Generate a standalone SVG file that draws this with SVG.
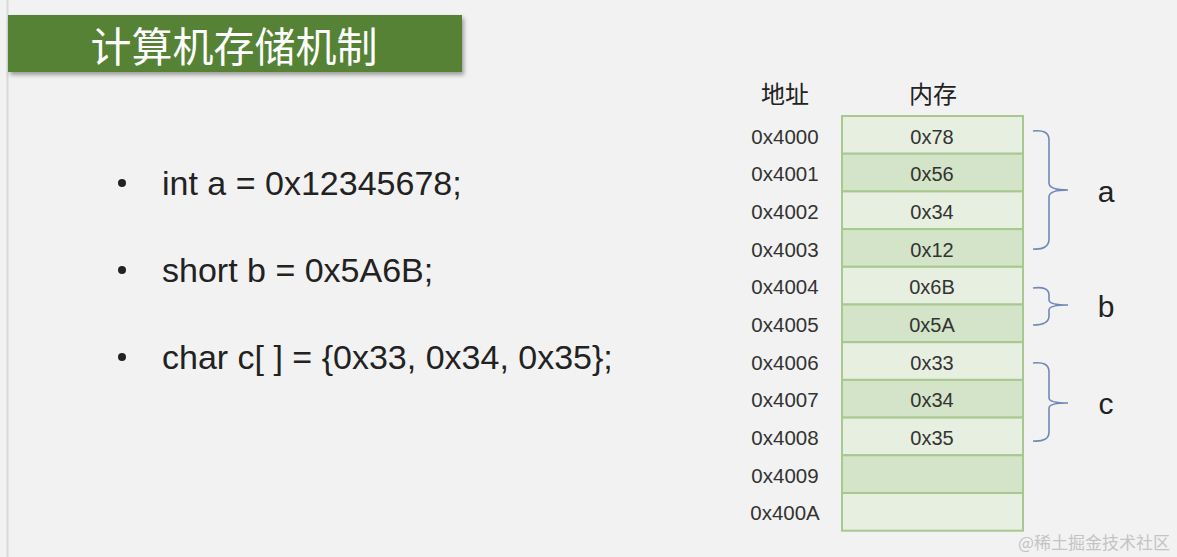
<svg xmlns="http://www.w3.org/2000/svg" width="1177" height="557" viewBox="0 0 1177 557">
<defs>
<filter id="sh" x="-5%" y="-20%" width="115%" height="150%"><feDropShadow dx="2" dy="3" stdDeviation="2" flood-color="#000" flood-opacity="0.35"/></filter>
<style>
.addr{font-family:"Liberation Sans",Arial,sans-serif;font-size:20.5px;fill:#333;text-anchor:middle}
.val{font-family:"Liberation Sans",Arial,sans-serif;font-size:20px;fill:#333;text-anchor:middle}
.hd{font-family:"Noto Sans CJK SC",sans-serif;font-size:24px;fill:#222;text-anchor:middle}
.code{font-family:"Liberation Sans",Arial,sans-serif;font-size:34px;fill:#222}
.lab{font-family:"Liberation Sans",Arial,sans-serif;font-size:30px;fill:#222;text-anchor:middle}
.c1{fill:#e7efe1;stroke:#a8c890;stroke-width:2}
.c2{fill:#d3e4c9;stroke:#a8c890;stroke-width:2}
.br{fill:none;stroke:#7088b8;stroke-width:1.6}
</style>
</defs>
<rect width="1177" height="557" fill="#f2f2f2"/>
<line x1="7.5" y1="0" x2="7.5" y2="557" stroke="#d8d8d8" stroke-width="2"/>
<g id="title">
<rect x="8" y="15" width="454" height="57" fill="#548235" filter="url(#sh)"/>
<text x="234" y="62" font-family="Noto Sans CJK SC,sans-serif" font-size="41" fill="#fff" text-anchor="middle">计算机存储机制</text>
</g>
<g id="code">
<circle cx="122" cy="183" r="4" fill="#222"/>
<text class="code" x="162" y="195">int a = 0x12345678;</text>
<circle cx="122" cy="270" r="4" fill="#222"/>
<text class="code" x="162" y="282">short b = 0x5A6B;</text>
<circle cx="122" cy="357" r="4" fill="#222"/>
<text class="code" x="162" y="369">char c[ ] = {0x33, 0x34, 0x35};</text>
</g>
<g id="headers">
<text class="hd" x="785" y="103">地址</text>
<text class="hd" x="933" y="103">内存</text>
</g>
<g id="memory">
<rect class="c1" x="842" y="116" width="181" height="37.7"/>
<rect class="c2" x="842" y="153.7" width="181" height="37.7"/>
<rect class="c1" x="842" y="191.4" width="181" height="37.7"/>
<rect class="c2" x="842" y="229.1" width="181" height="37.7"/>
<rect class="c1" x="842" y="266.8" width="181" height="37.7"/>
<rect class="c2" x="842" y="304.5" width="181" height="37.7"/>
<rect class="c1" x="842" y="342.2" width="181" height="37.7"/>
<rect class="c2" x="842" y="379.9" width="181" height="37.7"/>
<rect class="c1" x="842" y="417.6" width="181" height="37.7"/>
<rect class="c2" x="842" y="455.3" width="181" height="37.7"/>
<rect class="c1" x="842" y="493" width="181" height="37.7"/>
<text class="val" x="932" y="144">0x78</text>
<text class="val" x="932" y="181">0x56</text>
<text class="val" x="932" y="219">0x34</text>
<text class="val" x="932" y="257">0x12</text>
<text class="val" x="932" y="294">0x6B</text>
<text class="val" x="932" y="332">0x5A</text>
<text class="val" x="932" y="370">0x33</text>
<text class="val" x="932" y="407">0x34</text>
<text class="val" x="932" y="445">0x35</text>
</g>
<g id="addresses">
<text class="addr" x="785" y="144">0x4000</text>
<text class="addr" x="785" y="181">0x4001</text>
<text class="addr" x="785" y="219">0x4002</text>
<text class="addr" x="785" y="257">0x4003</text>
<text class="addr" x="785" y="294">0x4004</text>
<text class="addr" x="785" y="332">0x4005</text>
<text class="addr" x="785" y="370">0x4006</text>
<text class="addr" x="785" y="407">0x4007</text>
<text class="addr" x="785" y="445">0x4008</text>
<text class="addr" x="785" y="483">0x4009</text>
<text class="addr" x="785" y="520">0x400A</text>
</g>
<g id="connectors">
<path class="br" d="M1033 131 Q1049 129 1049 140 L1049 183 Q1049 190 1068 190 Q1049 190 1049 197 L1049 239 Q1049 250 1033 249"/>
<path class="br" d="M1033 288 Q1049 286 1049 295 L1049 300 Q1049 305 1068 305 Q1049 305 1049 310 L1049 316 Q1049 325 1033 325"/>
<path class="br" d="M1033 363 Q1049 361 1049 372 L1049 398 Q1049 403 1068 403 Q1049 403 1049 408 L1049 432 Q1049 442 1033 441"/>
</g>
<g id="labels">
<text class="lab" x="1106" y="202">a</text>
<text class="lab" x="1106" y="317">b</text>
<text class="lab" x="1106" y="414">c</text>
</g>
<text x="1170" y="549" font-family="Noto Sans CJK SC,sans-serif" font-size="17" fill="#c4c4c4" text-anchor="end">@稀土掘金技术社区</text>
</svg>
